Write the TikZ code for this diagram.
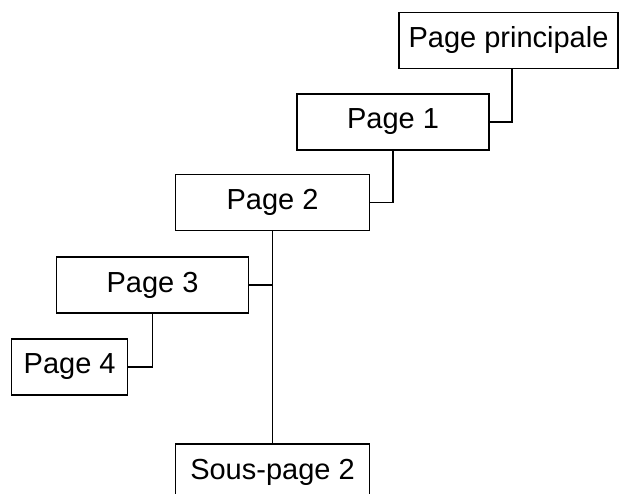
\documentclass[tikz,border=0pt]{standalone}
\usepackage{fontspec}
\setmainfont{Liberation Sans}
\begin{document}
\begin{tikzpicture}[x=1pt,y=-1pt,
  pagebox/.style={draw=black,line width=1.3pt,inner sep=0pt,minimum height=56pt,
    font=\fontsize{29}{31}\selectfont},
  link/.style={draw=black,line width=1.3pt}]
\useasboundingbox (0,0) rectangle (620,494);
\node[pagebox,minimum width=219pt] (pp) at (508.5,40.5) {Page principale};
\node[pagebox,minimum width=192pt] (p1) at (393,122) {Page 1};
\node[pagebox,minimum width=194pt] (p2) at (272.5,202.5) {Page 2};
\node[pagebox,minimum width=192pt] (p3) at (152.5,285) {Page 3};
\node[pagebox,minimum width=116pt] (p4) at (69.7,367) {Page 4};
\node[pagebox,minimum width=194pt] (sp) at (272.5,472) {Sous-page 2};
\draw[link] ([xshift=3.5pt]pp.south) |- (p1.east);
\draw[link] (p1.south) |- (p2.east);
\draw[link] (p2.south) -- (sp.north);
\draw[link] (p3.east) -- (p3.east -| p2.south);
\draw[link] (p3.south) |- (p4.east);
\end{tikzpicture}
\end{document}
